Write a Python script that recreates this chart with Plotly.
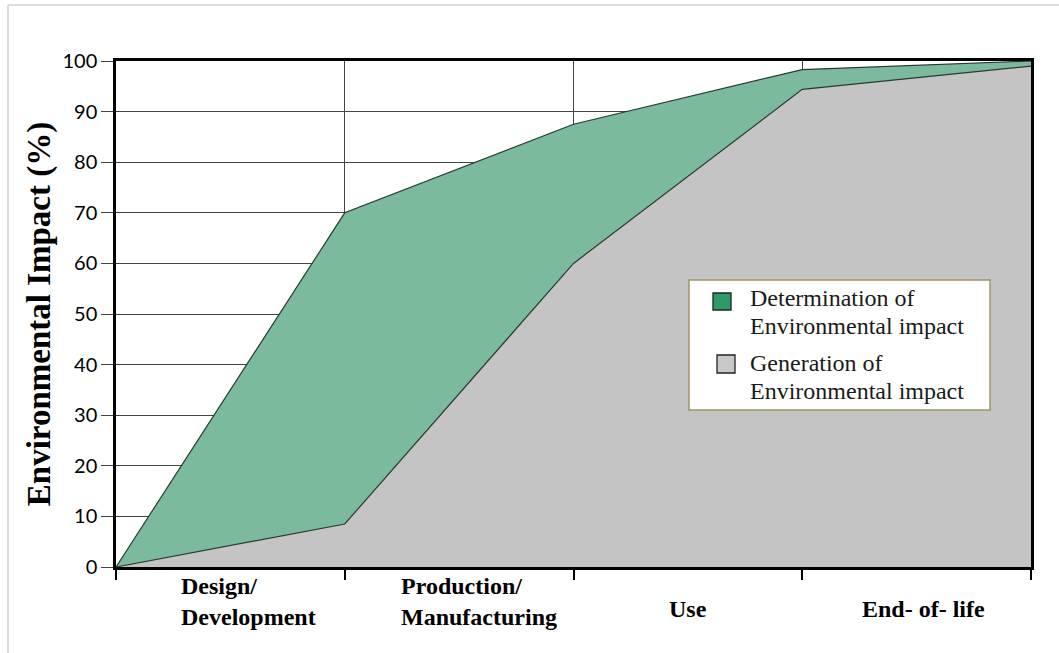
import plotly.graph_objects as go

stages_x = [0, 1, 2, 3, 4]
determination = [0, 70, 87.5, 98.3, 100]
generation = [0, 8.5, 60, 94.4, 99]

stage_labels = ["Design/<br>Development", "Production/<br>Manufacturing", "Use", "End- of- life"]
stage_label_pos = [0.275, 1.235, 2.5, 3.53]
stage_label_anchor = ["left", "left", "center", "center"]

legend_lines = [["Determination of", "Environmental impact"], ["Generation of", "Environmental impact"]]
legend_colors = ["#2f9a68", "#c8c8c8"]

GREEN = "#7bba9d"
GRAY = "#c4c4c4"
SERIF = "Liberation Serif, Times New Roman, serif"

# plot area geometry (pixels) used to place the hand-made legend
L, R, T, B = 116, 1031, 61, 567
def px(xp):
    return (xp - L) / (R - L)
def py(yp):
    return (B - yp) / (B - T)

fig = go.Figure()
fig.add_trace(go.Scatter(x=stages_x, y=determination, mode="lines", fill="tozeroy",
                         fillcolor=GREEN, line=dict(color="#2a3a30", width=1.2),
                         showlegend=False, hoverinfo="skip"))
fig.add_trace(go.Scatter(x=stages_x, y=generation, mode="lines", fill="tozeroy",
                         fillcolor=GRAY, line=dict(color="#2a3a30", width=1.2),
                         showlegend=False, hoverinfo="skip"))

for lab, xp, anc in zip(stage_labels, stage_label_pos, stage_label_anchor):
    fig.add_annotation(x=xp, xref="x", y=0, yref="paper", yanchor="middle",
                       yshift=-34 if "<br>" in lab else -42,
                       xanchor=anc, align="left", text="<b>" + lab.replace("<br>", "</b><br><b>") + "</b>",
                       showarrow=False,
                       font=dict(family=SERIF, size=24, color="black"))

# legend box
fig.add_shape(type="rect", xref="paper", yref="paper", x0=px(689), x1=px(990), y0=py(410), y1=py(280),
              fillcolor="white", line=dict(color="#9d9567", width=1.5), layer="above")
marker_boxes = [(713, 731, 293, 310), (717, 735, 355, 373)]
line_y = [(298, 326), (363, 391)]
for (x0, x1, y0, y1), col, lines, ys in zip(marker_boxes, legend_colors, legend_lines, line_y):
    fig.add_shape(type="rect", xref="paper", yref="paper", x0=px(x0), x1=px(x1), y0=py(y1), y1=py(y0),
                  fillcolor=col, line=dict(color="#222222", width=1.3), layer="above")
    for txt, yy in zip(lines, ys):
        fig.add_annotation(x=px(748), y=py(yy), xref="paper", yref="paper", xanchor="left",
                           yanchor="middle", text=txt, showarrow=False,
                           font=dict(family=SERIF, size=24, color="#1a1a1a"))

# faint outer frame
fig.add_shape(type="line", xref="paper", yref="paper", x0=px(8), x1=px(8), y0=py(660), y1=py(5),
              line=dict(color="#dcdcdc", width=2))
fig.add_shape(type="line", xref="paper", yref="paper", x0=px(8), x1=px(1070), y0=py(5), y1=py(5),
              line=dict(color="#dcdcdc", width=2))

fig.update_layout(
    width=1059, height=653,
    margin=dict(l=116, r=28, t=61, b=86),
    paper_bgcolor="white", plot_bgcolor="white",
    showlegend=False,
    xaxis=dict(range=[0, 4], tickvals=[0, 1, 2, 3, 4], showticklabels=False,
               ticks="outside", ticklen=10, tickwidth=2, tickcolor="black",
               showgrid=True, gridcolor="#444444", gridwidth=1,
               showline=True, linecolor="black", linewidth=2.5, mirror=True,
               zeroline=False, fixedrange=True),
    yaxis=dict(range=[0, 100], tickvals=list(range(0, 101, 10)),
               ticks="outside", ticklen=12, tickwidth=1, tickcolor="#444444",
               showgrid=True, gridcolor="#444444", gridwidth=1,
               showline=True, linecolor="black", linewidth=2.5, mirror=True,
               zeroline=False,
               tickfont=dict(family="Lato", size=20, color="black"),
               title=dict(text="<b>Environmental Impact (%)</b>", standoff=2,
                          font=dict(family=SERIF, size=33, color="black"))),
)

fig.write_html("out.html")
